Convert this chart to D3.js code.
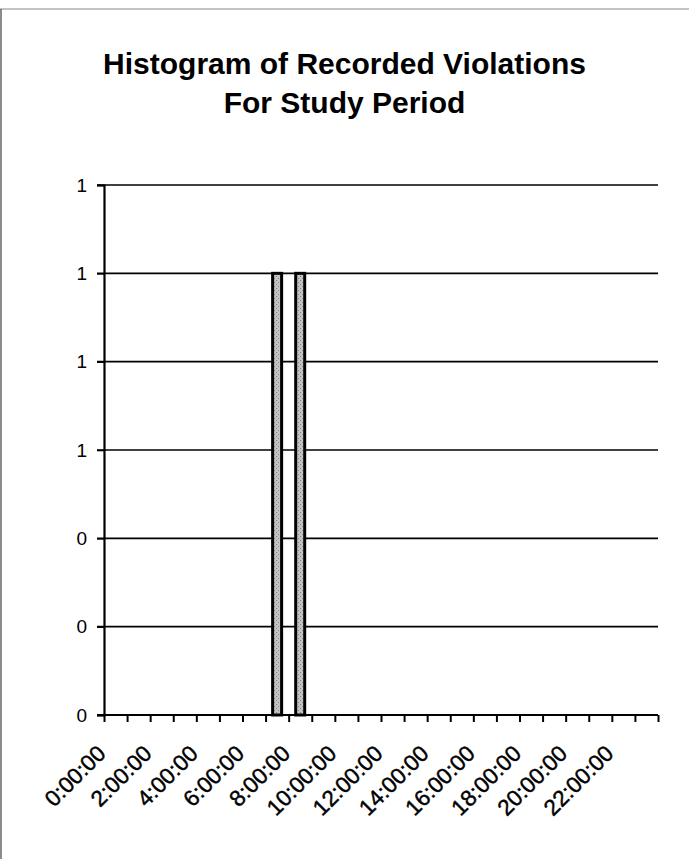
<!DOCTYPE html>
<html>
<head>
<meta charset="utf-8">
<script src="https://cdn.jsdelivr.net/npm/d3@7"></script>
<style>
  html, body { margin: 0; padding: 0; background: #fff; }
  svg { display: block; }
</style>
</head>
<body>
<svg id="chart" width="689" height="859"></svg>
<script>
// ---- data ----
const titleLines = ["Histogram of Recorded Violations", "For Study Period"];
const hours = d3.range(0, 24);                       // bins start hour
const counts = [0,0,0,0,0,0,0,1,1,0,0,0,0,0,0,0,0,0,0,0,0,0,0,0];
const xTickHours = [0,2,4,6,8,10,12,14,16,18,20,22];
const xTickLabels = ["0:00:00","2:00:00","4:00:00","6:00:00","8:00:00","10:00:00",
                     "12:00:00","14:00:00","16:00:00","18:00:00","20:00:00","22:00:00"];
const yTicks = [0, 0.2, 0.4, 0.6, 0.8, 1.0, 1.2];
const yTickLabels = ["0","0","0","1","1","1","1"];

// ---- layout ----
const W = 689, H = 859;
const plot = { left: 104, right: 658, top: 185, bottom: 715 };
const font = "'Liberation Sans', Arial, Helvetica, sans-serif";

const svg = d3.select("#chart");

const x = d3.scaleLinear().domain([0, 24]).range([plot.left, plot.right]);
const y = d3.scaleLinear().domain([0, 1.2]).range([plot.bottom, plot.top]);

// stipple pattern for bars
const defs = svg.append("defs");
const pat = defs.append("pattern").attr("id", "stip").attr("patternUnits", "userSpaceOnUse")
  .attr("width", 4).attr("height", 4);
pat.append("rect").attr("width", 4).attr("height", 4).attr("fill", "#c4c4c4");
pat.append("rect").attr("x", 0).attr("y", 0).attr("width", 1).attr("height", 1).attr("fill", "#777");
pat.append("rect").attr("x", 2).attr("y", 2).attr("width", 1).attr("height", 1).attr("fill", "#888");

// scan frame
svg.append("line").attr("x1", 0).attr("x2", W).attr("y1", 9).attr("y2", 9)
  .attr("stroke", "#888").attr("stroke-width", 1);
svg.append("line").attr("x1", 1).attr("x2", 1).attr("y1", 9).attr("y2", H)
  .attr("stroke", "#666").attr("stroke-width", 1.5);

// title
svg.append("g").selectAll("text").data(titleLines).join("text")
  .attr("x", W / 2)
  .attr("y", (d, i) => 74 + i * 39)
  .attr("text-anchor", "middle")
  .attr("font-family", font)
  .attr("font-weight", "bold")
  .attr("font-size", 30)
  .attr("fill", "#000")
  .text(d => d);

// gridlines
svg.append("g").selectAll("line").data(yTicks.filter(v => v > 0)).join("line")
  .attr("x1", plot.left - 7).attr("x2", plot.right)
  .attr("y1", d => y(d)).attr("y2", d => y(d))
  .attr("stroke", "#000").attr("stroke-width", 1.6);

// y axis
const yAxis = d3.axisLeft(y).tickValues(yTicks)
  .tickFormat((d, i) => yTickLabels[i]).tickSize(7).tickPadding(10);
const gy = svg.append("g").attr("transform", `translate(${plot.left},0)`).call(yAxis);
gy.select(".domain").attr("stroke", "#000").attr("stroke-width", 2.2);
gy.selectAll(".tick line").attr("stroke", "#000").attr("stroke-width", 1.6);
gy.selectAll(".tick text").attr("font-family", font).attr("font-size", 19).attr("fill", "#000");

// bars
const bw = 12;
svg.append("g").selectAll("rect").data(hours.filter((h, i) => counts[i] > 0)).join("rect")
  .attr("x", h => (x(h) + x(h + 1)) / 2 - bw / 2 + 1.5)
  .attr("width", bw - 3)
  .attr("y", h => y(counts[h]))
  .attr("height", h => y(0) - y(counts[h]))
  .attr("fill", "url(#stip)")
  .attr("stroke", "#000")
  .attr("stroke-width", 3);

// x axis
const xAxis = d3.axisBottom(x).tickValues(d3.range(0, 25)).tickFormat("").tickSize(7);
const gx = svg.append("g").attr("transform", `translate(0,${plot.bottom})`).call(xAxis);
gx.select(".domain").remove();
gx.selectAll(".tick line").attr("stroke", "#000").attr("stroke-width", 2);
svg.append("line").attr("x1", plot.left - 7).attr("x2", plot.right)
  .attr("y1", plot.bottom).attr("y2", plot.bottom)
  .attr("stroke", "#000").attr("stroke-width", 2.2);

// x labels, rotated
svg.append("g").selectAll("text").data(xTickHours).join("text")
  .attr("transform", h => `translate(${x(h) + 3},${plot.bottom + 40}) rotate(-45)`)
  .attr("text-anchor", "end")
  .attr("font-family", font)
  .attr("font-size", 22.5)
  .attr("fill", "#000")
  .attr("stroke", "#000")
  .attr("stroke-width", 0.45)
  .text((h, i) => xTickLabels[i]);
</script>
</body>
</html>
